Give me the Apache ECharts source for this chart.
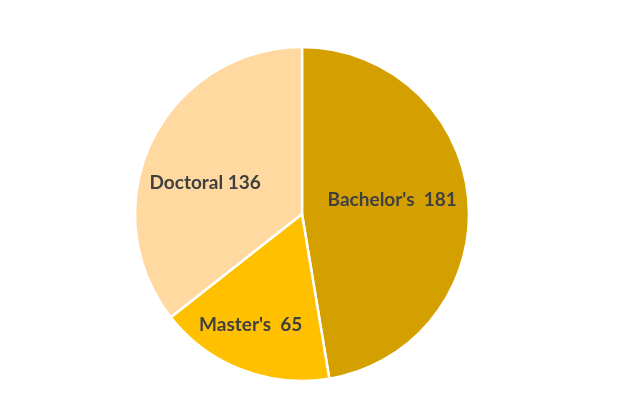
<!DOCTYPE html>
<html><head><meta charset="utf-8">
<script src="https://cdn.jsdelivr.net/npm/echarts@6/dist/echarts.min.js"></script>
<style>html,body{margin:0;padding:0;background:#fff}#c{width:642px;height:417px}</style>
</head><body><div id="c"></div>
<script>
const categories = ["Bachelor's", "Master's", "Doctoral"];
const values = [181, 65, 136];
const colors = ['#D4A000', '#FFC000', '#FFD9A0'];
const labelOffsets = [[4, -7], [-20, 30], [-19, 7]];

const chart = echarts.init(document.getElementById('c'));
chart.setOption({
  animation: false,
  series: [{
    type: 'pie',
    center: [302, 214],
    radius: 167,
    startAngle: 90,
    clockwise: true,
    data: categories.map((n, i) => ({
      name: n, value: values[i],
      itemStyle: { color: colors[i] },
      label: { offset: labelOffsets[i] }
    })),
    itemStyle: { borderColor: '#fff', borderWidth: 2.5 },
    label: {
      show: true, position: 'inside',
      formatter: p => p.name + (p.dataIndex === 2 ? ' ' : '  ') + p.value,
      fontFamily: 'Lato', fontWeight: 'bold', fontSize: 19, color: '#404040'
    },
    labelLine: { show: false },
    emphasis: { disabled: true }
  }]
});
</script></body></html>
